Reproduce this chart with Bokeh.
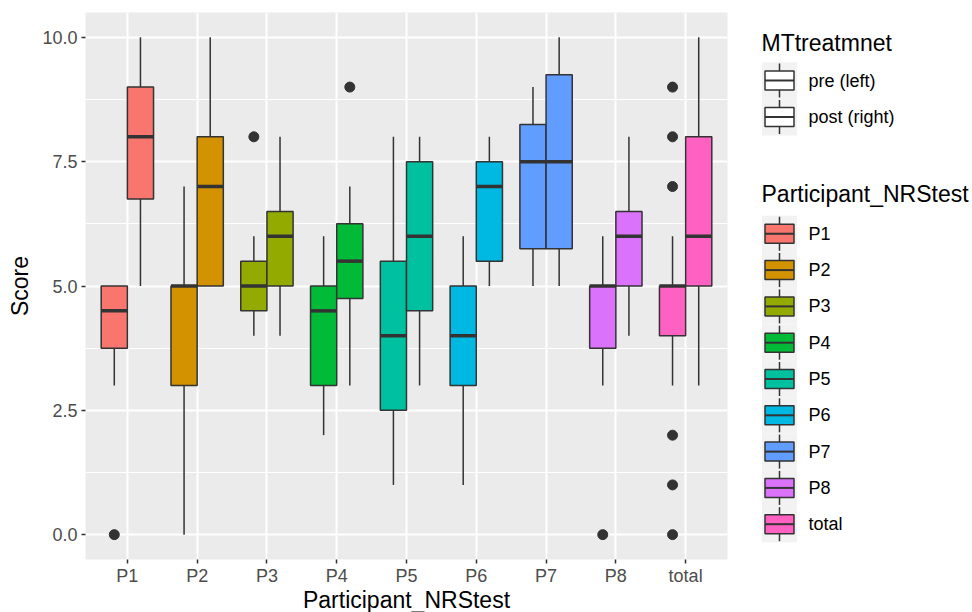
import numpy as np
from bokeh.plotting import figure
from bokeh.models import Range1d, FixedTicker, ColumnDataSource
from bokeh.layouts import row, column
from bokeh.core.properties import value
from bokeh.embed import file_html
from bokeh.resources import INLINE

# ---------------- data ----------------
categories = ["P1", "P2", "P3", "P4", "P5", "P6", "P7", "P8", "total"]
colors = ["#F8766D", "#D39200", "#93AA00", "#00BA38", "#00C19F",
          "#00B9E3", "#619CFF", "#DB72FB", "#FF61C3"]

pre_lower = [3, 0, 4, 2, 1, 1, 5, 3, 3]
pre_q1 = [3.75, 3, 4.5, 3, 2.5, 3, 5.75, 3.75, 4]
pre_med = [4.5, 5, 5, 4.5, 4, 4, 7.5, 5, 5]
pre_q3 = [5, 5, 5.5, 5, 5.5, 5, 8.25, 5, 5]
pre_upper = [5, 7, 6, 6, 8, 6, 9, 6, 6]

post_lower = [5, 5, 4, 3, 3, 5, 5, 4, 3]
post_q1 = [6.75, 5, 5, 4.75, 4.5, 5.5, 5.75, 5, 5]
post_med = [8, 7, 6, 5.5, 6, 7, 7.5, 6, 6]
post_q3 = [9, 8, 6.5, 6.25, 7.5, 7.5, 9.25, 6.5, 8]
post_upper = [10, 10, 8, 7, 8, 8, 10, 8, 10]

outlier_cat = ["P1", "P3", "P4", "P8", "total", "total", "total", "total", "total", "total"]
outlier_grp = ["pre", "pre", "post", "pre", "pre", "pre", "pre", "pre", "pre", "pre"]
outlier_val = [0, 8, 9, 0, 9, 8, 7, 2, 1, 0]

y_ticks = [0, 2.5, 5, 7.5, 10]
y_tick_labels = ["0.0", "2.5", "5.0", "7.5", "10.0"]
y_minor = [1.25, 3.75, 6.25, 8.75]
groups = ["pre (left)", "post (right)"]
x_title = "Participant_NRStest"
y_title = "Score"

FONT = "Liberation Sans"
DARK = "#333333"
DODGE = 0.1875
BOXW = 0.375
TICK_FS = "18px"
TITLE_FS = "23px"

MAIN_W = 743
MAIN_H = 588
TITLE_H = 24
BORDER_LEFT = 85
BORDER_RIGHT = 16
BORDER_TOP = 12
BORDER_BOTTOM = 29

# ---------------- main plot ----------------
p = figure(width=MAIN_W, height=MAIN_H, x_range=Range1d(0.4, 9.6), y_range=Range1d(-0.5, 10.5),
           output_backend="svg", toolbar_location=None, title=None,
           min_border_left=BORDER_LEFT, min_border_right=BORDER_RIGHT,
           min_border_top=BORDER_TOP, min_border_bottom=BORDER_BOTTOM)
p.background_fill_color = "#EBEBEB"
p.border_fill_color = "white"
p.outline_line_color = None

xpos = np.arange(1, len(categories) + 1)
x_ticker = FixedTicker(ticks=list(xpos), minor_ticks=[])
y_ticker = FixedTicker(ticks=y_ticks, minor_ticks=y_minor)

p.xaxis.ticker = x_ticker
p.xaxis.major_label_overrides = {int(i): c for i, c in zip(xpos, categories)}
p.yaxis.ticker = y_ticker
p.yaxis.major_label_overrides = {t: l for t, l in zip(y_ticks, y_tick_labels)}

for ax in (p.xaxis, p.yaxis):
    ax.axis_line_color = None
    ax.major_tick_line_color = DARK
    ax.major_tick_line_width = 1.5
    ax.major_tick_out = 4
    ax.major_tick_in = 0
    ax.minor_tick_line_color = None
    ax.major_label_text_font = FONT
    ax.major_label_text_font_size = TICK_FS
    ax.major_label_text_color = "#4D4D4D"
    ax.axis_label_text_font = FONT
    ax.axis_label_text_font_size = TITLE_FS
    ax.axis_label_text_font_style = "normal"
    ax.axis_label_text_color = "black"

p.yaxis.major_label_standoff = 4
p.yaxis.axis_label = y_title
p.yaxis.axis_label_standoff = 6
p.xaxis.major_label_standoff = 2

p.xgrid.ticker = x_ticker
p.ygrid.ticker = y_ticker
p.xgrid.grid_line_color = "white"
p.xgrid.grid_line_width = 2
p.ygrid.grid_line_color = "white"
p.ygrid.grid_line_width = 2
p.ygrid.minor_grid_line_color = "white"
p.ygrid.minor_grid_line_width = 1

for offset, lo, q1, med, q3, up in [(-DODGE, pre_lower, pre_q1, pre_med, pre_q3, pre_upper),
                                    (DODGE, post_lower, post_q1, post_med, post_q3, post_upper)]:
    src = ColumnDataSource(dict(
        x=xpos + offset, x0=xpos + offset - BOXW / 2, x1=xpos + offset + BOXW / 2,
        lo=lo, q1=q1, med=med, q3=q3, up=up, color=colors))
    p.segment(x0="x", x1="x", y0="lo", y1="q1", source=src, line_color=DARK, line_width=1.5)
    p.segment(x0="x", x1="x", y0="q3", y1="up", source=src, line_color=DARK, line_width=1.5)
    p.vbar(x="x", width=BOXW, bottom="q1", top="q3", source=src, fill_color="color",
           line_color=DARK, line_width=1.5)
    p.segment(x0="x0", x1="x1", y0="med", y1="med", source=src, line_color=DARK, line_width=3.5)

ox = [categories.index(c) + 1 + (-DODGE if g == "pre" else DODGE)
      for c, g in zip(outlier_cat, outlier_grp)]
p.scatter(x=ox, y=outlier_val, size=10, fill_color=DARK, line_color=DARK)

# ---------------- x-axis title strip (below the main plot) ----------------
tfig = figure(width=MAIN_W, height=TITLE_H, x_range=p.x_range,
              y_range=Range1d(MAIN_H + TITLE_H, MAIN_H),
              output_backend="svg", toolbar_location=None, title=None,
              x_axis_location=None, y_axis_location=None,
              min_border_left=BORDER_LEFT, min_border_right=BORDER_RIGHT,
              min_border_top=0, min_border_bottom=0)
tfig.grid.visible = False
tfig.outline_line_color = None
tfig.background_fill_color = "white"
tfig.border_fill_color = "white"
tfig.text(x=[(p.x_range.start + p.x_range.end) / 2], y=[599], text=[x_title],
          text_font=value(FONT), text_font_size=TITLE_FS, text_baseline="middle",
          text_align="center", text_color="black")

# ---------------- legend panel ----------------
leg_h = MAIN_H + TITLE_H
leg = figure(width=972 - MAIN_W, height=leg_h, x_range=Range1d(MAIN_W, 972),
             y_range=Range1d(leg_h, 0),
             output_backend="svg", toolbar_location=None, title=None,
             x_axis_location=None, y_axis_location=None,
             min_border_left=0, min_border_right=0, min_border_top=0, min_border_bottom=0)
leg.grid.visible = False
leg.outline_line_color = None
leg.background_fill_color = "white"
leg.border_fill_color = "white"

key_cx = 779
key_w = 35
box_w = 29
box_h = 19
whisk = 17
label_x = 808


def draw_keys(y_centers, fills, labels, step):
    yc = np.array(y_centers, dtype=float)
    leg.rect(x=[key_cx] * len(yc), y=yc, width=key_w, height=step,
             fill_color="#F2F2F2", line_color=None)
    leg.segment(x0=[key_cx] * len(yc), x1=[key_cx] * len(yc), y0=yc - whisk, y1=yc + whisk,
                line_color=DARK, line_width=1.5)
    leg.rect(x=[key_cx] * len(yc), y=yc, width=box_w, height=box_h, fill_color=fills,
             line_color=DARK, line_width=1.5)
    leg.segment(x0=[key_cx - box_w / 2] * len(yc), x1=[key_cx + box_w / 2] * len(yc),
                y0=yc, y1=yc, line_color=DARK, line_width=2)
    leg.text(x=[label_x] * len(yc), y=yc, text=labels, text_font=value(FONT),
             text_font_size=TICK_FS, text_baseline="middle", text_align="left",
             text_color="black")


step1 = 36.6
draw_keys([80 + step1 * i for i in range(len(groups))], ["white"] * len(groups), groups, step1)
step2 = 36.3
draw_keys([233.3 + step2 * i for i in range(len(categories))], colors, categories, step2)

leg.text(x=[761, 761], y=[42, 193], text=["MTtreatmnet", "Participant_NRStest"],
         text_font=value(FONT), text_font_size=TITLE_FS, text_baseline="middle",
         text_align="left", text_color="black")

layout = row(column(p, tfig), leg)
open("out.html", "w").write(file_html(layout, INLINE))
